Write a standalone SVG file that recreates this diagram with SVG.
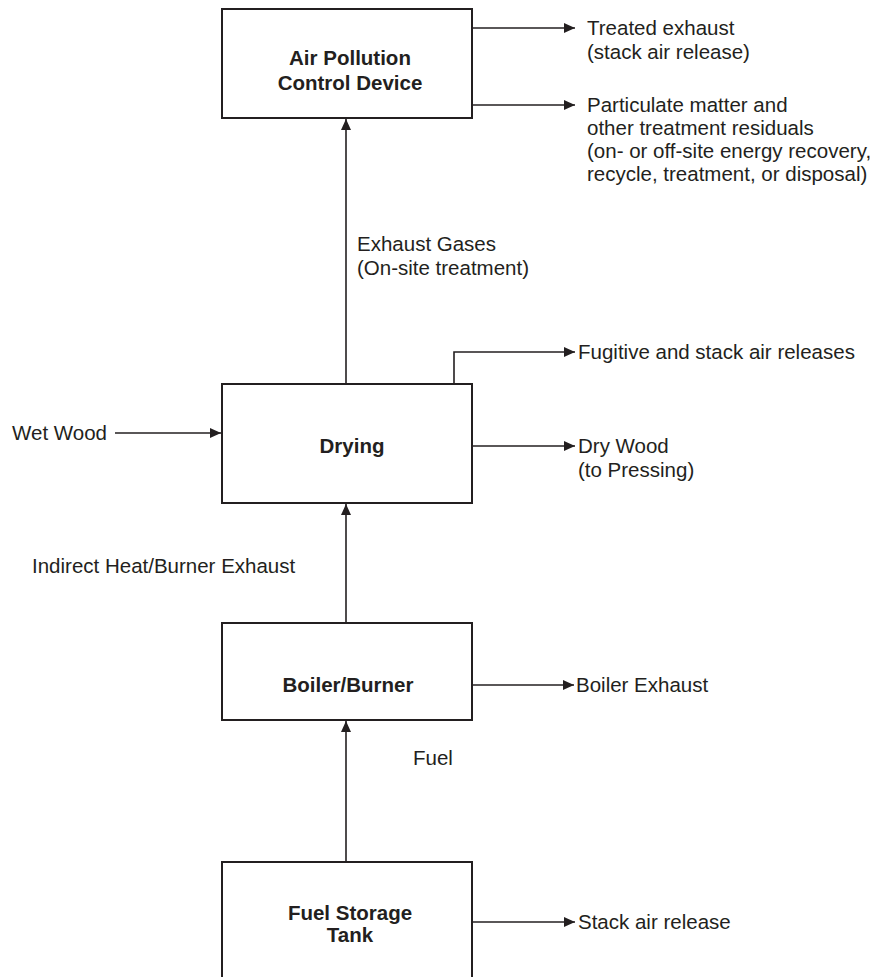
<svg xmlns="http://www.w3.org/2000/svg" width="879" height="977" viewBox="0 0 879 977">
<style>
.box{fill:#fff;stroke:#231f20;stroke-width:2}
.ln{fill:none;stroke:#231f20;stroke-width:1.6}
text{font-family:"Liberation Sans",Arial,sans-serif;font-size:20.5px;fill:#231f20}
.b{font-weight:bold;text-anchor:middle}
</style>
<defs>
<marker id="ah" markerUnits="userSpaceOnUse" markerWidth="12" markerHeight="10" refX="11" refY="5" orient="auto">
<path d="M0,0 L11,5 L0,10 Z" fill="#231f20"/>
</marker>
</defs>
<rect width="879" height="977" fill="#fff"/>
<g id="connectors">
<path class="ln" d="M346,384 V119" marker-end="url(#ah)"/>
<path class="ln" d="M472,28 H575" marker-end="url(#ah)"/>
<path class="ln" d="M472,105 H575" marker-end="url(#ah)"/>
<path class="ln" d="M454,384 V352 H575" marker-end="url(#ah)"/>
<path class="ln" d="M115,433 H221" marker-end="url(#ah)"/>
<path class="ln" d="M472,446 H575" marker-end="url(#ah)"/>
<path class="ln" d="M346,623 V504" marker-end="url(#ah)"/>
<path class="ln" d="M472,685 H574" marker-end="url(#ah)"/>
<path class="ln" d="M346,862 V721" marker-end="url(#ah)"/>
<path class="ln" d="M472,922 H575" marker-end="url(#ah)"/>
</g>
<g id="apcd">
<rect class="box" x="222" y="9" width="250" height="109"/>
<text class="b" x="350" y="65">Air Pollution</text>
<text class="b" x="350" y="90">Control Device</text>
</g>
<g id="drying">
<rect class="box" x="222" y="384" width="250" height="119"/>
<text class="b" x="352" y="453">Drying</text>
</g>
<g id="boiler">
<rect class="box" x="222" y="623" width="250" height="97"/>
<text class="b" x="348" y="692">Boiler/Burner</text>
</g>
<g id="fuel-tank">
<rect class="box" x="222" y="862" width="250" height="130"/>
<text class="b" x="350" y="920">Fuel Storage</text>
<text class="b" x="350" y="942">Tank</text>
</g>
<g id="labels">
<text x="587" y="35">Treated exhaust</text>
<text x="587" y="59">(stack air release)</text>
<text x="587" y="112">Particulate matter and</text>
<text x="587" y="135">other treatment residuals</text>
<text x="587" y="158">(on- or off-site energy recovery,</text>
<text x="587" y="181">recycle, treatment, or disposal)</text>
<text x="357" y="251">Exhaust Gases</text>
<text x="357" y="275">(On-site treatment)</text>
<text x="578" y="359">Fugitive and stack air releases</text>
<text x="12" y="440">Wet Wood</text>
<text x="578" y="453">Dry Wood</text>
<text x="578" y="477">(to Pressing)</text>
<text x="32" y="573">Indirect Heat/Burner Exhaust</text>
<text x="576" y="692">Boiler Exhaust</text>
<text x="413" y="765">Fuel</text>
<text x="578" y="929">Stack air release</text>
</g>
</svg>
